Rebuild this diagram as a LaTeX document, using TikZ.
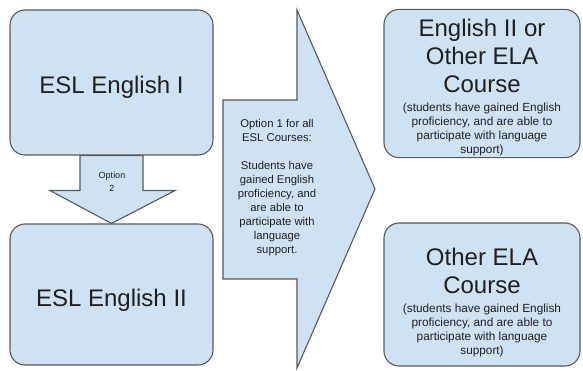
\documentclass[tikz,border=0pt]{standalone}
\usepackage{fontspec}
\setmainfont{Liberation Sans}
\usetikzlibrary{calc}
\definecolor{boxfill}{HTML}{CFE2F3}
\definecolor{boxline}{HTML}{595959}
\definecolor{inktext}{HTML}{1F1F1F}
\tikzset{course/.style={draw=boxline,fill=boxfill,line width=1.1pt,rounded corners=15pt,
           inner sep=0pt,align=center,text=inktext,font=\fontsize{24}{28}\selectfont},
         outcome/.style={course,minimum width=196pt,minimum height=143pt},
         blockarrow/.style={draw=boxline,fill=boxfill,line width=1.1pt,line join=miter},
         note/.style={align=center,text=inktext,font=\fontsize{11.3}{14}\selectfont}}
\newcommand{\smalltext}{\fontsize{11.8}{14}\selectfont}
\newcommand{\gainednote}{{\smalltext\begin{tabular}[t]{@{}c@{}}(students have gained English\\
  proficiency, and are able to\\participate with language\\support)\end{tabular}}}
\begin{document}
\begin{tikzpicture}[x=1pt,y=-1pt]
\useasboundingbox (0,0) rectangle (583,371);
\node[course,minimum width=203pt,minimum height=145pt,text height=26pt] (b1) at (111.5,82.5) {ESL English I};
\node[course,minimum width=203pt,minimum height=141pt,text height=29pt] (b2) at (111.5,294.5) {ESL English II};
\node[outcome] (b3) at (482,83.5) {\rule{0pt}{27pt}English II or\\Other ELA\\Course\\[-9pt]\gainednote};
\node[outcome] (b4) at (482,294.5) {\rule{0pt}{35pt}Other ELA\\Course\\[-9pt]\gainednote};
\draw[blockarrow] ($(b1.south)+(-31.5,0)$) -- ($(b1.south)+(-31.5,35)$) -- ($(b1.south)+(-61.5,35)$)
  -- (b2.north) -- ($(b1.south)+(63.5,35)$) -- ($(b1.south)+(31.5,35)$) -- ($(b1.south)+(31.5,0)$) -- cycle;
\node[note,font=\fontsize{9}{13}\selectfont] (opt2) at (112,181.5) {Option\\2};
\draw[blockarrow] (223,100) -- (297,100) -- (297,10) -- (375,189) -- (297,368) -- (297,279) -- (223,279) -- cycle;
\node[note] (opt1) at (277,188) {Option 1 for all\\ESL Courses:\\[14pt]Students have\\gained English\\proficiency, and\\are able to\\participate with\\language\\support.};
\end{tikzpicture}
\end{document}
